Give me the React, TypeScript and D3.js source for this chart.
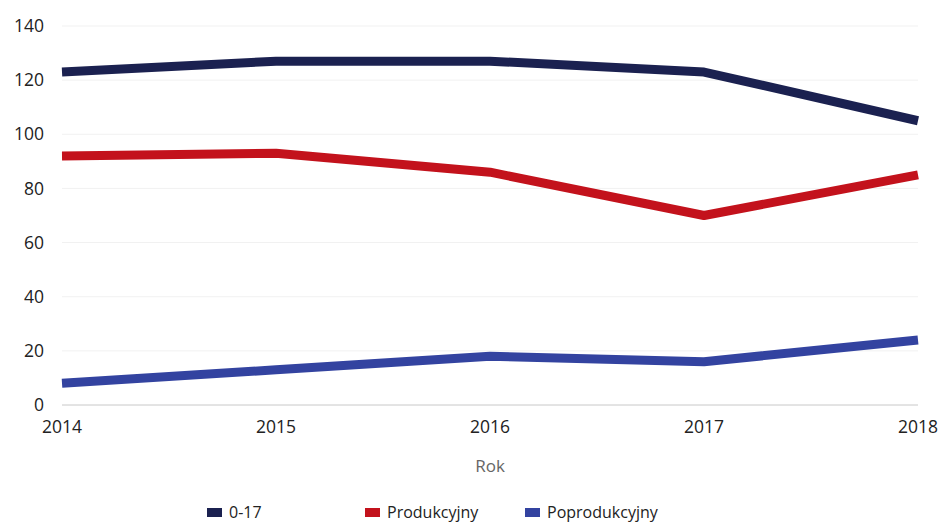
import React from "react";
import * as d3 from "d3";

const years = ["2014", "2015", "2016", "2017", "2018"];
const s017 = [123, 127, 127, 123, 105];
const sProd = [92, 93, 86, 70, 85];
const sPoprod = [8, 13, 18, 16, 24];
const yTicks = [0, 20, 40, 60, 80, 100, 120, 140];
const seriesNames = ["0-17", "Produkcyjny", "Poprodukcyjny"];
const seriesColors = ["#1b2150", "#c3121c", "#3343a0"];

export default function App() {
  const W = 948, H = 525;
  const x = d3.scalePoint<string>().domain(years).range([62, 918]);
  const y = d3.scaleLinear().domain([0, 140]).range([405, 26]);
  const line = d3
    .line<number>()
    .x((_, i) => x(years[i]) as number)
    .y((d) => y(d));
  const all = [s017, sProd, sPoprod];
  const legendX = [207, 365, 525];
  const font = "'Open Sans', 'Noto Sans', sans-serif";
  return (
    <svg
      width={W}
      height={H}
      style={{ position: "absolute", left: 0, top: 0, background: "#fff" }}
      fontFamily={font}
    >
      {yTicks.map((t) => (
        <g key={t}>
          {t > 0 && (
            <line x1={62} x2={918} y1={y(t)} y2={y(t)} stroke="#f1f1f1" strokeWidth={1} />
          )}
          <text x={44} y={y(t)} dy="0.35em" textAnchor="end" fontSize={17.5} fill="#222">
            {t}
          </text>
        </g>
      ))}
      <line x1={62} x2={918} y1={y(0)} y2={y(0)} stroke="#c8c8c8" strokeWidth={1} />
      {years.map((yr) => (
        <text key={yr} x={x(yr)} y={433} textAnchor="middle" fontSize={17.5} fill="#222">
          {yr}
        </text>
      ))}
      <text x={490} y={472} textAnchor="middle" fontSize={17} fill="#666">
        Rok
      </text>
      {all.map((s, i) => (
        <path
          key={i}
          d={line(s) || ""}
          fill="none"
          stroke={seriesColors[i]}
          strokeWidth={9}
          strokeLinejoin="round"
        />
      ))}
      {seriesNames.map((n, i) => (
        <g key={n}>
          <rect x={legendX[i]} y={508} width={15} height={9} fill={seriesColors[i]} />
          <text x={legendX[i] + 22} y={518} fontSize={16} fill="#222">
            {n}
          </text>
        </g>
      ))}
    </svg>
  );
}
